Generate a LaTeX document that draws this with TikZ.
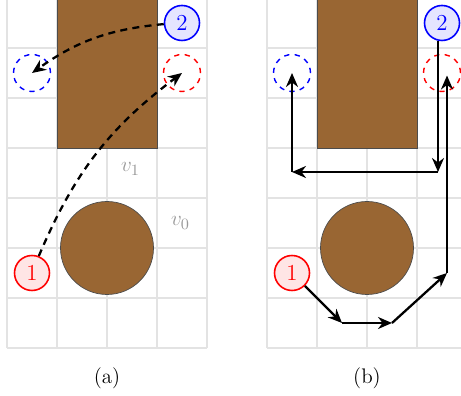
\documentclass[tikz,border=0pt]{standalone}
\usetikzlibrary{arrows.meta,positioning}
\begin{document}
\begin{tikzpicture}[
  cell/.style={gray!22, line width=0.6pt},
  obstacle/.style={draw=black!70, fill=brown!80!black},
  robot/.style={circle, line width=0.9pt, minimum size=0.7cm, inner sep=0pt, font=\fontsize{13}{15}\selectfont},
  goal/.style={circle, dashed, line width=0.8pt, minimum size=0.74cm, inner sep=0pt},
  dpath/.style={-{Stealth[length=2.8mm, width=2.4mm]}, line width=1.3pt, dash pattern=on 4pt off 3pt},
  spath/.style={-{Stealth[length=2.8mm, width=2.4mm]}, line width=1.3pt},
  vlabel/.style={text=gray!80, font=\fontsize{13}{15}\selectfont},
  caption/.style={font=\large},
]
\useasboundingbox (-0.14,-0.96) rectangle (9.08,6.96);

% === Panel (a) ===
\draw[cell] (0,0) grid (4,7);
\draw[obstacle] (1,4) rectangle (3,7.2);
\draw[obstacle] (2,2) circle (0.93);
\node[goal, draw=red] (ga) at (3.5,5.5) {};
\node[goal, draw=blue] (ha) at (0.5,5.5) {};
\node[robot, draw=red, fill=red!10, text=red] (ra) at (0.5,1.5) {1};
\node[robot, draw=blue, fill=blue!10, text=blue] (ba) at (3.5,6.5) {2};
\node[vlabel] (v1) at (2.47,3.58) {$v_1$};
\node[vlabel] (v0) at (3.47,2.5) {$v_0$};
\draw[dpath] (ra) to[bend left=15] (ga.center);
\draw[dpath] (ba) to[bend right=15] (ha.center);
\node[caption] (capa) at (2,-0.6) {(a)};

% === Panel (b) ===
\begin{scope}[xshift=5.2cm]
\draw[cell] (0,0) grid (4,7);
\draw[obstacle] (1,4) rectangle (3,7.2);
\draw[obstacle] (2,2) circle (0.93);
\node[goal, draw=red] (gb) at (3.5,5.5) {};
\node[goal, draw=blue] (hb) at (0.5,5.5) {};
\node[robot, draw=red, fill=red!10, text=red] (rb) at (0.5,1.5) {1};
\node[robot, draw=blue, fill=blue!10, text=blue] (bb) at (3.5,6.5) {2};
% robot 1 around the circle
\coordinate (p1) at (1.5,0.5);
\coordinate (p2) at (2.5,0.5);
\coordinate (p3) at (3.6,1.5);
\coordinate (p4) at (3.6,5.45);
\draw[spath] (rb) -- (p1);
\draw[spath] (p1) -- (p2);
\draw[spath] (p2) -- (p3);
\draw[spath] (p3) -- (p4);
% robot 2 under the block
\coordinate (q1) at (3.42,3.52);
\coordinate (q2) at (0.5,3.52);
\draw[spath] (q1 |- bb.south) -- (q1);
\draw[spath] (q1) -- (q2);
\draw[spath] (q2) -- (hb.center);
\node[caption] (capb) at (2,-0.6) {(b)};
\end{scope}

\end{tikzpicture}
\end{document}
